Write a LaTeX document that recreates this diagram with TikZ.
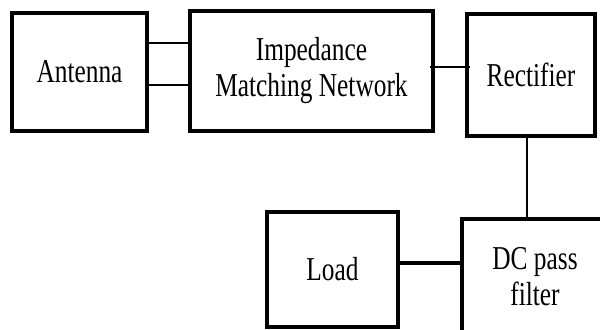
\documentclass[tikz,border=0pt]{standalone}
\usepackage{fontspec}
\setmainfont{Liberation Serif}[FakeStretch=0.76]
\usetikzlibrary{positioning,calc}

\tikzset{
    block/.style={draw, line width=1.9pt, align=center, inner sep=0pt,
        font=\fontsize{19}{20.5}\selectfont},
    wire/.style={line width=1.3pt},
    thickwire/.style={line width=2pt}
}

\begin{document}
\begin{tikzpicture}[x=0.02cm, y=-0.02cm]
    \useasboundingbox (0,0) rectangle (600,329);
    \clip (0,0) rectangle (600,329);
    \node[block, minimum width=2.7cm, minimum height=2.36cm] (ant) at (79.5,72) {Antenna};
    \node[block, minimum width=4.86cm, minimum height=2.4cm] (imn) at (311.5,71) {Impedance\\Matching Network};
    \node[block, minimum width=2.56cm, minimum height=2.44cm] (rect) at (531,75) {Rectifier};
    \node[block, minimum width=2.92cm, minimum height=2.32cm] (dc) at (535,277) {DC pass\\filter};
    \node[block, minimum width=2.62cm, minimum height=2.3cm] (load) at (332.5,269.5) {Load};
    \coordinate (a1) at ([yshift=0.58cm]ant.east);
    \coordinate (a2) at ([yshift=-0.26cm]ant.east);
    \coordinate (r1) at ([yshift=0.08cm]imn.east);
    \coordinate (l1) at ([yshift=0.13cm]load.east);
    \draw[wire]
    (a1) -- (a1 -| imn.west)
    (a2) -- (a2 -| imn.west)
    ([xshift=-0.1cm]r1) -- ([xshift=0.1cm]r1 -| rect.west)
    ([xshift=-0.08cm]rect.south) -- ([xshift=-0.08cm]rect.south |- dc.north);
    \draw[thickwire] (l1) -- (l1 -| dc.west);
\end{tikzpicture}
\end{document}
